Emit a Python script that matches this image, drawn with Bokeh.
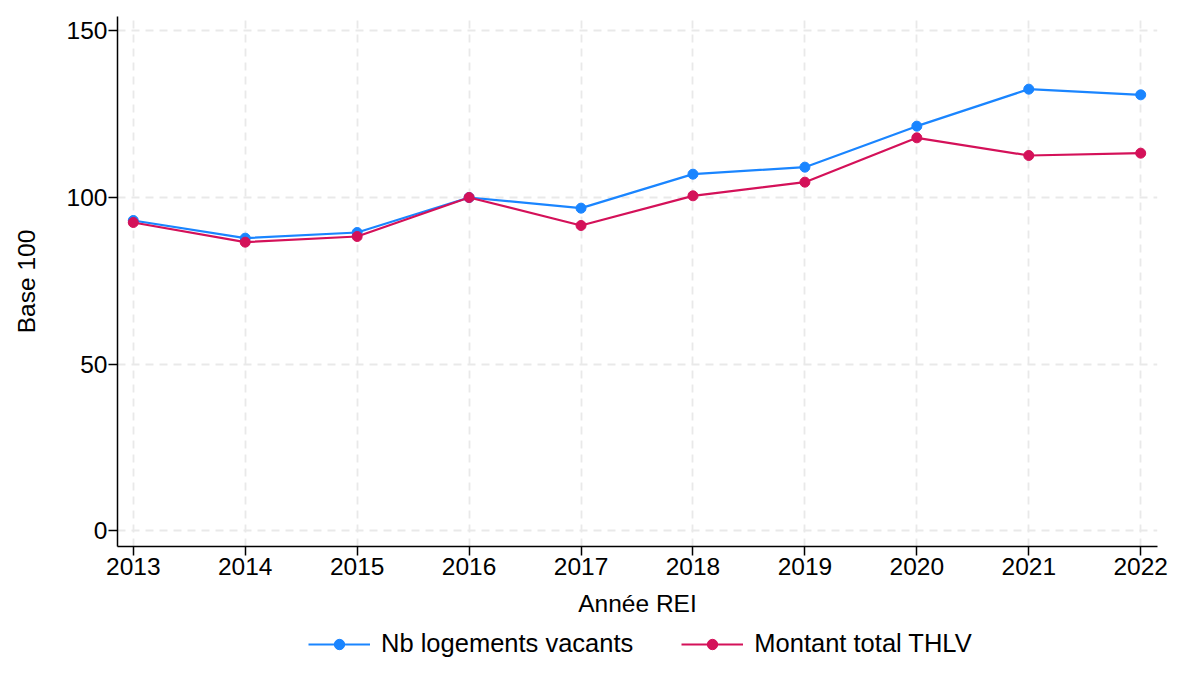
from bokeh.plotting import figure
from bokeh.layouts import column
from bokeh.models import Range1d, FixedTicker, Legend, LegendItem
from bokeh.embed import file_html
from bokeh.resources import INLINE

years = [2013, 2014, 2015, 2016, 2017, 2018, 2019, 2020, 2021, 2022]
nb_logements = [93.1, 87.8, 89.5, 100.0, 96.8, 107.0, 109.1, 121.4, 132.5, 130.8]
montant_thlv = [92.5, 86.6, 88.3, 100.0, 91.6, 100.5, 104.6, 117.9, 112.6, 113.3]
y_ticks = [0, 50, 100, 150]
series_labels = ["Nb logements vacants", "Montant total THLV"]

BLUE = "#1a85ff"
RED = "#d41159"
FONT = "Liberation Sans"
FS = "24.5px"

p = figure(width=1169, height=628, output_backend="svg", toolbar_location=None,
           x_range=Range1d(2012.859, 2022.15), y_range=Range1d(-4.7, 154.3),
           min_border_left=117, min_border_right=12, min_border_top=16, min_border_bottom=82)
p.outline_line_color = None
p.background_fill_color = "white"
p.border_fill_color = "white"

for ax in (p.xaxis[0], p.yaxis[0]):
    ax.major_tick_out = 9
    ax.major_tick_in = 0
    ax.minor_tick_out = 0
    ax.minor_tick_in = 0
    ax.axis_line_color = "black"
    ax.axis_line_width = 1.5
    ax.major_tick_line_color = "black"
    ax.major_tick_line_width = 1.5
    ax.major_label_text_font = FONT
    ax.major_label_text_font_size = FS
    ax.major_label_text_color = "black"
    ax.axis_label_text_font = FONT
    ax.axis_label_text_font_size = FS
    ax.axis_label_text_font_style = "normal"
    ax.axis_label_text_color = "black"

p.xaxis.ticker = FixedTicker(ticks=years)
p.yaxis.ticker = FixedTicker(ticks=y_ticks)
p.xaxis.axis_label = "Année REI"
p.yaxis.axis_label = "Base 100"
p.xaxis.major_label_standoff = 2
p.yaxis.major_label_standoff = 1
p.xaxis.axis_label_standoff = 12
p.yaxis.axis_label_standoff = 24

for g in (p.xgrid[0], p.ygrid[0]):
    g.grid_line_color = "#e9e9e9"
    g.grid_line_width = 1.8
    g.grid_line_dash = "8 6"

p.line(years, nb_logements, line_color=BLUE, line_width=2.2)
p.scatter(years, nb_logements, size=10, fill_color=BLUE, line_color=BLUE)
p.line(years, montant_thlv, line_color=RED, line_width=2.2)
p.scatter(years, montant_thlv, size=10, fill_color=RED, line_color=RED)

# Legend strip below the chart (series drawn out of view, only their legend glyphs show)
lg = figure(width=1169, height=30, output_backend="svg", toolbar_location=None,
            x_range=Range1d(0, 1), y_range=Range1d(0, 1),
            min_border_left=0, min_border_right=0, min_border_top=0, min_border_bottom=0,
            x_axis_location=None, y_axis_location=None)
lg.outline_line_color = None
lg.xgrid.visible = False
lg.ygrid.visible = False
items = []
for lab, col, vals in zip(series_labels, [BLUE, RED], [nb_logements, montant_thlv]):
    r1 = lg.line(years, vals, line_color=col, line_width=2.2)
    r2 = lg.scatter(years, vals, size=10, fill_color=col, line_color=col)
    items.append(LegendItem(label=lab, renderers=[r1, r2]))
legend = Legend(items=items, orientation="horizontal", location=(191, 0))
legend.label_text_font = FONT
legend.label_text_font_size = "25.5px"
legend.label_text_color = "black"
legend.glyph_width = 62
legend.glyph_height = 26
legend.label_height = 26
legend.label_standoff = 11
legend.spacing = 48
legend.border_line_color = None
legend.background_fill_alpha = 0
legend.margin = 0
legend.padding = 2
lg.add_layout(legend, "center")

layout = column(p, lg, spacing=0)
open("out.html", "w").write(file_html(layout, INLINE))
